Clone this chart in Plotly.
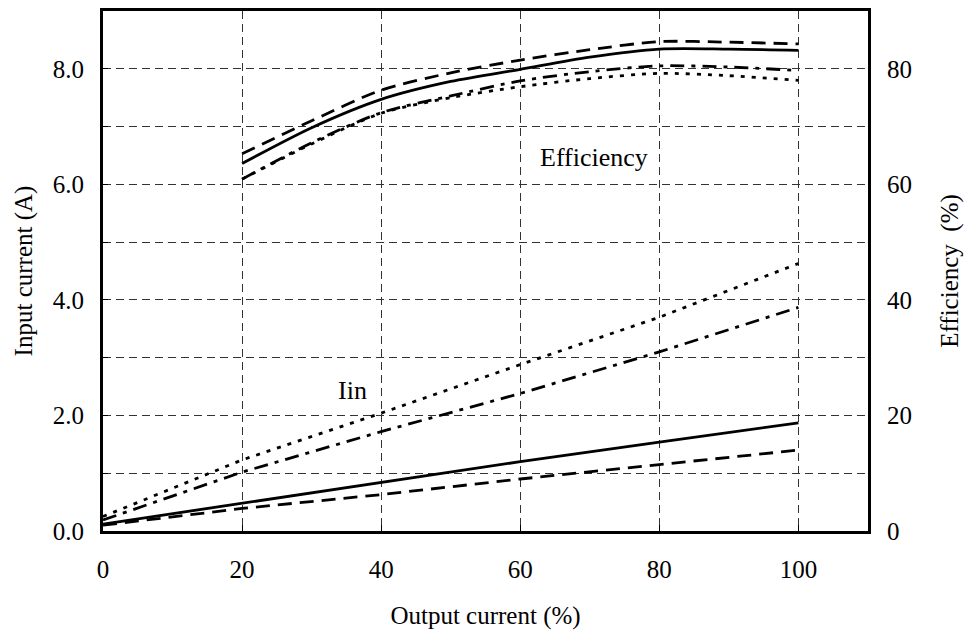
import plotly.graph_objects as go

# Output current (%) sample points
iin_x = [0, 20, 40, 60, 80, 100]
eff_x = [20, 30, 40, 50, 60, 70, 80, 90, 100]

# Input current (A) for four curves
iin_solid = [0.12, 0.48, 0.85, 1.20, 1.54, 1.87]
iin_dashed = [0.10, 0.39, 0.63, 0.90, 1.15, 1.40]
iin_dashdot = [0.19, 1.02, 1.72, 2.38, 3.10, 3.87]
iin_dotted = [0.25, 1.23, 2.04, 2.88, 3.70, 4.63]

# Efficiency (%) for four curves
eff_solid = [63.6, 69.8, 74.7, 77.8, 79.9, 82.0, 83.4, 83.4, 83.2]
eff_dashed = [65.3, 71.0, 76.3, 79.3, 81.5, 83.3, 84.7, 84.6, 84.3]
eff_dashdot = [60.9, 67.2, 72.4, 75.3, 77.9, 79.5, 80.5, 80.3, 79.7]
eff_dotted = [60.9, 67.0, 72.3, 75.0, 76.9, 78.3, 79.2, 78.8, 78.0]

left_ticks = [0, 1, 2, 3, 4, 5, 6, 7, 8, 9]
left_text = ["0.0", "", "2.0", "", "4.0", "", "6.0", "", "8.0", ""]
right_ticks = [0, 20, 40, 60, 80]
x_ticks = [0, 20, 40, 60, 80, 100]

FONT = "Liberation Serif, Times New Roman, serif"
FS = 25
LW = 2.8
GRID = "#333333"
GDASH = "8px,5px"

fig = go.Figure()

styles = [("solid", iin_solid, eff_solid),
          ("14px,8px", iin_dashed, eff_dashed),
          ("14px,7px,4px,7px", iin_dashdot, eff_dashdot),
          ("4px,7px", iin_dotted, eff_dotted)]
for d, iv, ev in styles:
    fig.add_trace(go.Scatter(x=iin_x, y=iv, mode="lines", yaxis="y",
                             line=dict(color="black", width=LW, dash=d)))
    fig.add_trace(go.Scatter(x=eff_x, y=ev, mode="lines", yaxis="y2",
                             line=dict(color="black", width=LW, dash=d,
                                       shape="spline", smoothing=0.8)))

fig.update_layout(
    width=964, height=634,
    margin=dict(l=103, r=96, t=11, b=103),
    paper_bgcolor="white", plot_bgcolor="white",
    showlegend=False,
    font=dict(family=FONT, size=FS, color="black"),
    xaxis=dict(range=[0, 110], tickvals=x_ticks, showgrid=True, gridcolor=GRID,
               griddash=GDASH, gridwidth=1, zeroline=False, showline=True,
               linecolor="black", linewidth=3, mirror=True, ticks="inside",
               ticklen=6, tickcolor="black", ticklabelstandoff=14, automargin=False,
               title=dict(text="Output current (%)", font=dict(size=FS), standoff=25)),
    yaxis=dict(range=[0, 9], tickvals=left_ticks, ticktext=left_text, showgrid=True,
               gridcolor=GRID, griddash=GDASH, gridwidth=1, zeroline=False,
               showline=True, linecolor="black", linewidth=3, mirror=True,
               ticks="inside", ticklen=5, tickcolor="black", ticklabelstandoff=11,
               automargin=False,
               title=dict(text="Input current (A)", font=dict(size=FS), standoff=14)),
    yaxis2=dict(range=[0, 90], tickvals=right_ticks, overlaying="y", side="right",
                showgrid=False, zeroline=False, showline=False, ticks="",
                ticklabelstandoff=18, automargin=False,
                title=dict(text="Efficiency  (%)", font=dict(size=FS), standoff=30)),
    annotations=[
        dict(x=0.569, y=0.718, xref="paper", yref="paper", text="Efficiency",
             showarrow=False, xanchor="left", yanchor="middle",
             font=dict(family=FONT, size=26)),
        dict(x=0.305, y=0.27, xref="paper", yref="paper", text="Iin",
             showarrow=False, xanchor="left", yanchor="middle",
             font=dict(family=FONT, size=26)),
    ],
)

fig.write_html("out.html",
               config={"displayModeBar": False},
               post_script="document.body.style.margin='0';document.body.style.overflow='hidden';")
